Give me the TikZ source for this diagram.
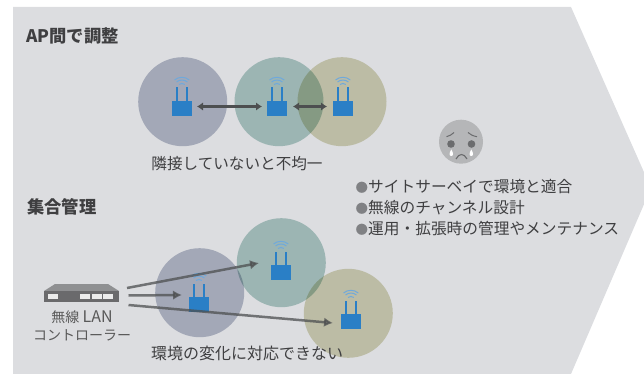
\documentclass[tikz,border=0pt]{standalone}
\usepackage{fontspec}
\usetikzlibrary{arrows.meta}
\setmainfont{Noto Sans CJK JP}
\definecolor{panelgray}{HTML}{DCDDE0}
\definecolor{zonea}{HTML}{BDC2D1}
\definecolor{zoneb}{HTML}{B5D1CC}
\definecolor{zonec}{HTML}{DADABC}
\definecolor{routerblue}{HTML}{2A7FC6}
\definecolor{wifiblue}{HTML}{6FA9DC}
\definecolor{linkgray}{HTML}{4D4F50}
\definecolor{textgray}{HTML}{3F3F41}
\definecolor{facegray}{HTML}{B5B6B8}
\definecolor{eyegray}{HTML}{6B6C6E}
\definecolor{bulletgray}{HTML}{808184}
\tikzset{
  zone/.style={circle,minimum size=89pt,inner sep=0pt,blend mode=multiply},
  routerbox/.style={fill=routerblue,minimum width=20pt,minimum height=15pt,inner sep=0pt},
  link/.style={-{Latex[length=9pt,width=9.5pt]},line width=2.5pt,linkgray,opacity=.75},
  duallink/.style={{Latex[length=6pt,width=8.5pt]}-{Latex[length=6pt,width=8.5pt]},line width=2.5pt,linkgray},
  heading/.style={font=\bfseries\fontsize{17.3}{17}\selectfont,text=textgray,anchor=west,inner sep=0pt},
  note/.style={font=\fontsize{15.6}{16}\selectfont,text=textgray,inner sep=0pt},
  issue/.style={font=\fontsize{15.7}{16}\selectfont,text=textgray,anchor=west,inner sep=0pt},
}
\newcommand{\routerap}[3]{%
  \node[routerbox] (#1) at (#2,#3) {};
  \draw[routerblue,line width=1.5pt] (#2-5,#3-7.5) -- (#2-5,#3-21);
  \draw[routerblue,line width=1.5pt] (#2+5,#3-7.5) -- (#2+5,#3-21);
  \draw[wifiblue,line width=1pt] (#2-3,#3-24) arc (-130:-50:4.5);
  \draw[wifiblue,line width=1pt] (#2-5.5,#3-26.5) arc (-130:-50:8.5);
  \draw[wifiblue,line width=1pt] (#2-7.5,#3-28.5) arc (-130:-50:11.5);
}
\newcommand{\issuemark}{{\color{bulletgray}\fontsize{12.5}{16}\selectfont ●}}
\begin{document}
\begin{tikzpicture}[x=1pt,y=-1pt]
\useasboundingbox (0,0) rectangle (644,374);
\fill[panelgray] (13,7) -- (571,7) -- (651,188) -- (571,374) -- (13,374) -- cycle;

\node[heading] (titlea) at (26,36) {AP間で調整};
\node[heading] (titleb) at (27,207) {集合管理};

% upper row
\node[zone,fill=zonea] (zonea1) at (182.7,101.7) {};
\node[zone,fill=zoneb] (zoneb1) at (279,101.7) {};
\node[zone,fill=zonec] (zonec1) at (342,101.7) {};
\routerap{apa}{182}{108.5}
\routerap{apb}{277}{108.5}
\routerap{apc}{343}{108.5}
\coordinate (linka) at (197,106.5);
\coordinate (linkb) at (262,106.5);
\coordinate (linkc) at (293,106.5);
\coordinate (linkd) at (327,106.5);
\draw[duallink] (linka) -- (linkb);
\draw[duallink] (linkc) -- (linkd);
\node[note] (notea) at (237,164) {隣接していないと不均一};

% lower row
\node[zone,fill=zonea] (zonea2) at (199.7,292.7) {};
\node[zone,fill=zoneb] (zoneb2) at (281.3,262.7) {};
\node[zone,fill=zonec] (zonec2) at (348.3,313.3) {};
\routerap{apd}{199}{304.5}
\routerap{ape}{281}{272.5}
\routerap{apf}{351}{321.5}

% controller
\fill[black!35!panelgray] (44,291) -- (55,284) -- (108,284) -- (119,291) -- cycle;
\node[fill=black!52!panelgray,minimum width=75pt,minimum height=11pt,inner sep=0pt] (ctrl) at (81.5,296.5) {};
\foreach \px in {53,85,97,108}
  \fill[black!8] (\px-5,294) rectangle (\px+5,299);
\node[font=\fontsize{14}{18}\selectfont,text=black!65,align=center,inner sep=0pt] (ctrllabel) at (82,326) {無線 {\fontsize{16}{18}\selectfont LAN}\\コントローラー};
\coordinate (ctrla) at (127,288);
\coordinate (ctrlb) at (128.5,295.5);
\coordinate (ctrlc) at (128.5,305);
\coordinate (enda) at (182,295);
\coordinate (endb) at (259,263);
\coordinate (endc) at (333,323);
\draw[link] (ctrla) -- (endb);
\draw[link] (ctrlb) -- (enda);
\draw[link] (ctrlc) -- (endc);
\node[note,font=\fontsize{16}{16}\selectfont] (noteb) at (247,353) {環境の変化に対応できない};

% face
\node[circle,fill=facegray,minimum size=44pt,inner sep=0pt] (face) at (461,141.7) {};
\fill[eyegray] (451,144) circle (3.8);
\fill[eyegray] (471.5,144) circle (3.8);
\fill[white] (451.3,149.5) .. controls (449,153) and (449,156) .. (451.3,156) .. controls (453.6,156) and (453.6,153) .. (451.3,149.5);
\fill[white] (471.3,149.5) .. controls (469,153) and (469,156) .. (471.3,156) .. controls (473.6,156) and (473.6,153) .. (471.3,149.5);
\draw[eyegray,line width=1pt] (446.5,136.7) .. controls (449.5,136) and (452,134.5) .. (454,132.5);
\draw[eyegray,line width=1pt] (477,136.7) .. controls (473,136) and (470,134.5) .. (468,132.5);
\draw[eyegray,line width=1.1pt] (456,159) .. controls (459,153) and (464,153) .. (467,159);

% issues
\node[issue] (issuea) at (355.5,186.5) {\issuemark サイトサーベイで環境と適合};
\node[issue] (issueb) at (355.5,207.5) {\issuemark 無線のチャンネル設計};
\node[issue] (issuec) at (355.5,229) {\issuemark 運用・拡張時の管理やメンテナンス};
\end{tikzpicture}
\end{document}
